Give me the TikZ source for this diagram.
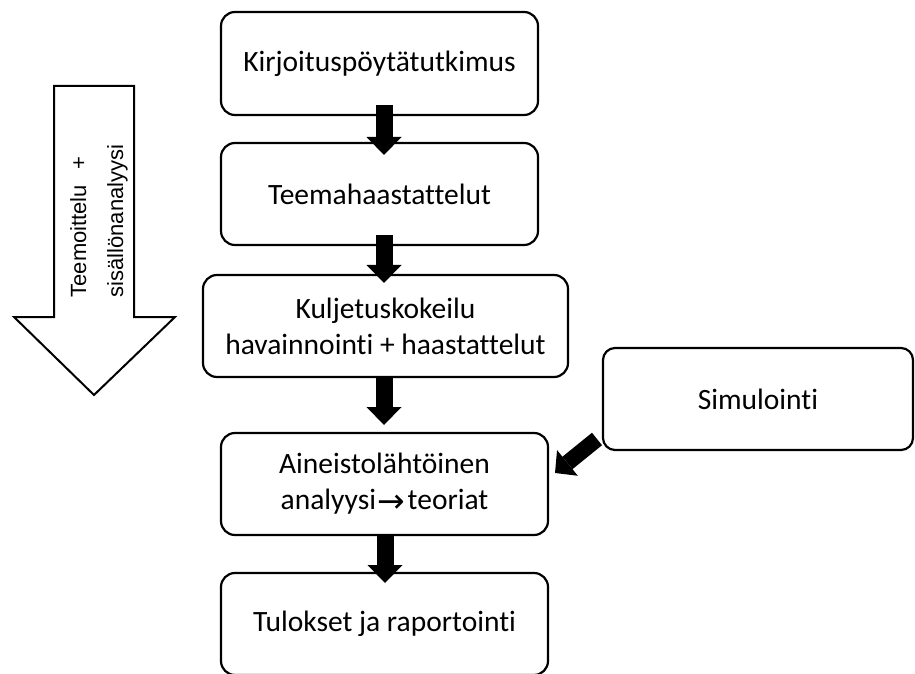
\documentclass[tikz,border=0pt]{standalone}
\usepackage{fontspec}
\setmainfont[Ligatures={NoCommon}]{Carlito}
\newfontfamily\arialfont{Liberation Sans}
\newfontfamily\symbfont{DejaVu Sans}
\usetikzlibrary{arrows.meta,calc}
\begin{document}
\begin{tikzpicture}[x=1pt,y=1pt,
  box/.style={draw, line width=2.2pt, rounded corners=14pt, fill=white,
    align=center, inner sep=0pt, outer sep=0pt,
    font=\fontsize{29.5}{36}\selectfont},
  fat/.style={line width=17pt, -{Triangle[width=35pt,length=18pt,line width=0pt]}},
  fatdiag/.style={line width=16pt, -{Triangle[width=33pt,length=16pt,line width=0pt]}},
  bigarrow/.style={draw, line width=2pt, line join=miter, fill=white},
  arrowlabel/.style={rotate=90, align=left, inner sep=0pt,
    font=\arialfont\fontsize{22}{37}\selectfont}]
\useasboundingbox (0,0) rectangle (915,673);
\fill[white] (0,0) rectangle (915,673);

% big downward arrow on the left
\draw[bigarrow] (54,587) -- (134,587) -- (134,356) -- (175,356) -- (94,278)
  -- (14,356) -- (54,356) -- cycle;
\node[arrowlabel] (lbl) at (99,452) {Teemoittelu\hspace{15pt}+\\sisällönanalyysi};

% boxes
\node[box, minimum width=317pt, minimum height=103pt] (b1) at (379.5,609.5) {Kirjoituspöytätutkimus};
\node[box, minimum width=317pt, minimum height=102pt] (b2) at (379.5,479) {Teemahaastattelut};
\node[box, minimum width=365pt, minimum height=102pt] (b3) at (385.5,347) {Kuljetuskokeilu\\havainnointi + haastattelut};
\node[box, minimum width=310pt, minimum height=102pt, rounded corners=12pt] (sim) at (758,274) {Simulointi};
\node[box, minimum width=327pt, minimum height=102pt] (b4) at (384.5,189) {Aineistolähtöinen\\analyysi\hspace{1pt}\raisebox{-2.5pt}{\symbfont\fontsize{33}{36}\selectfont →}\hspace{3pt}teoriat};
\node[box, minimum width=327pt, minimum height=102pt] (b5) at (384.5,49) {Tulokset ja raportointi};

% connectors
\draw[fat] ([shift={(4.5,10)}]b1.south) -- ([shift={(4.5,-12)}]b2.north);
\draw[fat] ([shift={(4.5,10)}]b2.south) -- ([shift={(-1.5,-8)}]b3.north);
\draw[fat] ([shift={(-1.5,0)}]b3.south) -- ([shift={(-0.5,8)}]b4.north);
\draw[fat] ([shift={(0.5,0)}]b4.south) -- ([shift={(0.5,-10)}]b5.north);
\draw[fatdiag] ([shift={(-6,11)}]sim.south west) -- ([shift={(7,11)}]b4.east);
\end{tikzpicture}
\end{document}
